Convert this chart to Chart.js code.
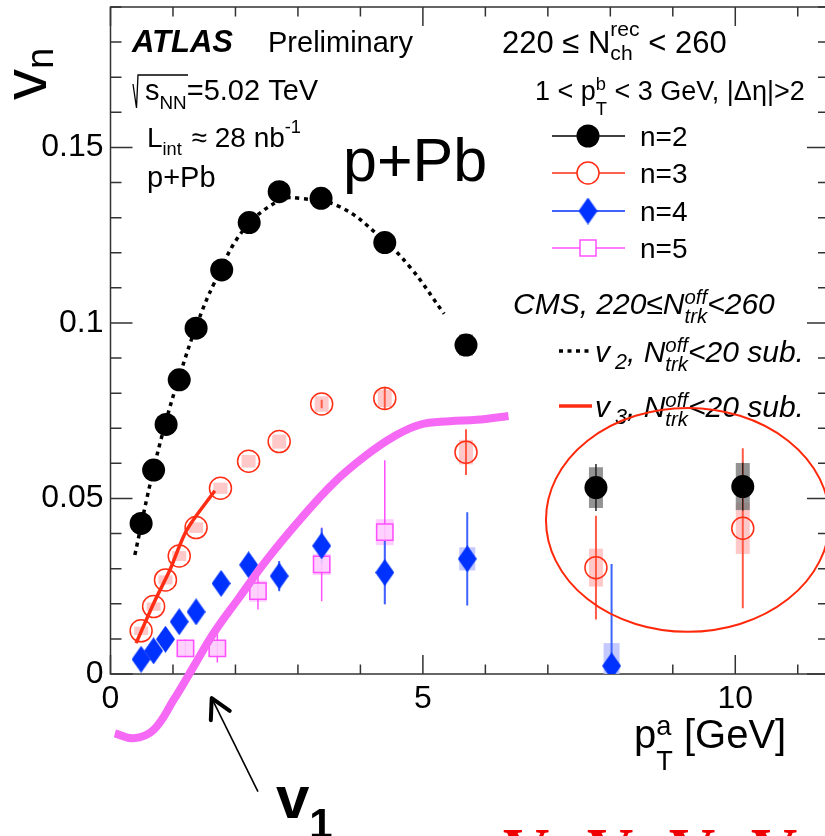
<!DOCTYPE html>
<html>
<head>
<meta charset="utf-8">
<script src="https://cdn.jsdelivr.net/npm/chart.js@4.4.0/dist/chart.umd.min.js"></script>
<style>
html, body { margin: 0; padding: 0; background: #fff; overflow: hidden; }
canvas { display: block; }
</style>
</head>
<body>
<canvas id="c" width="840" height="836"></canvas>
<script>
const FONT = 'Liberation Sans';

// ATLAS p+Pb, 220 <= Nch < 260 : vn vs pT(a)
const ptN2 = [0.49, 0.69, 0.89, 1.10, 1.37, 1.78, 2.22, 2.70, 3.37, 4.39, 5.69, 7.77, 10.12];
const v2 = [0.0429, 0.0581, 0.0711, 0.0838, 0.0985, 0.1151, 0.1286, 0.1374, 0.1355, 0.1229, 0.0937, 0.0531, 0.0534];
const v2Stat = [0, 0, 0, 0, 0, 0, 0, 0, 0, 0, 0.003, 0.0067, 0.0068];
const v2Sys = [0, 0, 0, 0, 0, 0, 0, 0, 0, 0, 0.003, 0.0058, 0.0067];

const ptN3 = [0.49, 0.69, 0.88, 1.10, 1.37, 1.76, 2.21, 2.70, 3.38, 4.39, 5.69, 7.77, 10.12];
const v3 = [0.0123, 0.0192, 0.0268, 0.0336, 0.0417, 0.0529, 0.0606, 0.0662, 0.0769, 0.0785, 0.0632, 0.0303, 0.0415];
const v3Stat = [0, 0, 0, 0, 0, 0, 0, 0, 0.0012, 0.0033, 0.0065, 0.0148, 0.0228];
const v3Sys = [0.0012, 0.0012, 0.0013, 0.0014, 0.0015, 0.0016, 0.0018, 0.002, 0.0022, 0.0025, 0.0035, 0.0054, 0.0073];

const ptN4 = [0.49, 0.69, 0.88, 1.10, 1.37, 1.77, 2.21, 2.70, 3.38, 4.39, 5.71, 8.02];
const v4 = [0.0042, 0.0066, 0.0099, 0.0149, 0.0177, 0.0258, 0.0311, 0.0279, 0.0365, 0.0289, 0.0328, 0.0023];
const v4Stat = [0, 0, 0, 0, 0, 0, 0, 0.0043, 0.005, 0.009, 0.0133, 0.029];
const v4Sys = [0, 0, 0, 0, 0, 0, 0, 0, 0, 0, 0.0033, 0.0065];

const ptN5 = [1.20, 1.71, 2.36, 3.38, 4.39];
const v5 = [0.0073, 0.0073, 0.0236, 0.0312, 0.0404];
const v5Stat = [0.0025, 0.004, 0.0052, 0.0105, 0.0205];
const v5Sys = [0.0022, 0.0022, 0.003, 0.003, 0.0037];

// CMS, 220 <= Ntrk < 260
const cmsPt2 = [0.39, 0.63, 0.87, 1.11, 1.38, 1.67, 2.13, 2.71, 3.03, 3.67, 4.31, 4.79, 5.34];
const cmsV2 = [0.0339, 0.0538, 0.0709, 0.0852, 0.0994, 0.1117, 0.1265, 0.135, 0.1355, 0.1331, 0.1246, 0.116, 0.1026];
const cmsPt3 = [0.41, 0.69, 0.95, 1.22, 1.67];
const cmsV3 = [0.0088, 0.0201, 0.0296, 0.0410, 0.0522];

// hand drawn v1 curve
const v1Pt = [0.07, 0.37, 0.69, 1.01, 1.33, 1.65, 2.07, 2.50, 3.03, 3.57, 4.10, 4.53, 4.95, 5.43, 5.86, 6.37];
const v1Val = [-0.0169, -0.0183, -0.0159, -0.0074, 0.0021, 0.0116, 0.0220, 0.0325, 0.0439, 0.0544, 0.0624, 0.0676, 0.0710, 0.0720, 0.0724, 0.0735];

const xTicks = [0, 5, 10];
const xTickLabels = ['0', '5', '10'];
const yTicks = [0, 0.05, 0.1, 0.15];
const yTickLabels = ['0', '0.05', '0.1', '0.15'];

const RED = 'rgb(255,45,20)';
const BLUE = 'rgb(0,50,255)';
const MAG = 'rgb(255,80,255)';
const CURVE = 'rgb(245,105,245)';

function pts(xs, ys) {
    return xs.map((x, i) => ({ x: x, y: ys[i] }));
}

function diamond(w, h, color) {
    const c = document.createElement('canvas');
    c.width = w;
    c.height = h;
    const g = c.getContext('2d');
    g.fillStyle = color;
    g.beginPath();
    g.moveTo(w / 2, 0);
    g.lineTo(w, h / 2);
    g.lineTo(w / 2, h);
    g.lineTo(0, h / 2);
    g.closePath();
    g.fill();
    return c;
}
const diamondImg = diamond(19, 27, BLUE);

const errorSeries = [
    { x: ptN5, y: v5, stat: v5Stat, sys: v5Sys, line: MAG, box: 'rgba(255,200,255,0.9)', w: 18, lw: 1.5 },
    { x: ptN4, y: v4, stat: v4Stat, sys: v4Sys, line: 'rgb(60,100,255)', box: 'rgba(190,195,255,0.9)', w: 16, lw: 2 },
    { x: ptN3, y: v3, stat: v3Stat, sys: v3Sys, line: 'rgb(255,90,70)', box: 'rgba(255,195,195,0.9)', w: 14, lw: 2 },
    { x: ptN2, y: v2, stat: v2Stat, sys: v2Sys, line: '#222', box: 'rgba(120,120,120,0.8)', w: 14, lw: 1.5 }
];

// text with sub/superscripts
function rich(ctx, x, y, size, parts, opt) {
    opt = opt || {};
    const st = opt.style || '';
    const fam = opt.family || FONT;
    ctx.fillStyle = opt.color || '#000';
    ctx.textAlign = 'left';
    ctx.textBaseline = 'alphabetic';
    parts.forEach(p => {
        if (typeof p === 'string') {
            ctx.font = st + ' ' + size + 'px "' + fam + '"';
            ctx.fillText(p, x, y);
            x += ctx.measureText(p).width;
        } else {
            const s2 = size * (p.scale || 0.68);
            ctx.font = st + ' ' + s2 + 'px "' + fam + '"';
            let w = 0;
            const x0 = x + (p.pre || 0);
            if (p.sup) {
                ctx.fillText(p.sup, x0, y + size * (p.supDy !== undefined ? p.supDy : -0.45));
                w = Math.max(w, ctx.measureText(p.sup).width);
            }
            if (p.sub) {
                ctx.fillText(p.sub, x0, y + size * (p.subDy !== undefined ? p.subDy : 0.3));
                w = Math.max(w, ctx.measureText(p.sub).width);
            }
            x = x0 + w + (p.post || 0);
        }
    });
    return x;
}

const framePlugin = {
    id: 'frame',
    beforeDatasetsDraw(chart) {
        const ctx = chart.ctx;
        const a = chart.chartArea;
        const sx = chart.scales.x, sy = chart.scales.y;
        ctx.save();
        ctx.strokeStyle = '#333';
        ctx.lineWidth = 1.5;
        ctx.strokeRect(a.left, a.top, a.right - a.left, a.bottom - a.top);
        ctx.beginPath();
        for (let v = 0; v <= 11; v++) {
            const px = sx.getPixelForValue(v);
            const len = v % 5 === 0 ? 19 : 9.5;
            ctx.moveTo(px, a.bottom); ctx.lineTo(px, a.bottom - len);
            ctx.moveTo(px, a.top); ctx.lineTo(px, a.top + len);
        }
        for (let k = 0; k <= 19; k++) {
            const py = sy.getPixelForValue(k / 100);
            const len = k % 5 === 0 ? 22 : 11;
            ctx.moveTo(a.left, py); ctx.lineTo(a.left + len, py);
            ctx.moveTo(a.right, py); ctx.lineTo(a.right - len, py);
        }
        ctx.stroke();

        // systematic boxes and statistical bars
        ctx.beginPath();
        ctx.rect(a.left, a.top, a.right - a.left, a.bottom - a.top);
        ctx.clip();
        errorSeries.forEach(s => {
            ctx.fillStyle = s.box;
            s.x.forEach((xv, i) => {
                if (!s.sys[i]) return;
                const px = sx.getPixelForValue(xv);
                const t = sy.getPixelForValue(s.y[i] + s.sys[i]);
                const b = sy.getPixelForValue(s.y[i] - s.sys[i]);
                ctx.fillRect(px - s.w / 2, t, s.w, b - t);
            });
        });
        errorSeries.forEach(s => {
            ctx.strokeStyle = s.line;
            ctx.lineWidth = s.lw;
            ctx.beginPath();
            s.x.forEach((xv, i) => {
                if (!s.stat[i]) return;
                const px = sx.getPixelForValue(xv);
                ctx.moveTo(px, sy.getPixelForValue(s.y[i] + s.stat[i]));
                ctx.lineTo(px, sy.getPixelForValue(s.y[i] - s.stat[i]));
            });
            ctx.stroke();
        });
        ctx.restore();
    }
};

const annotatePlugin = {
    id: 'annotate',
    afterDraw(chart) {
        const ctx = chart.ctx;
        const sx = chart.scales.x, sy = chart.scales.y;
        ctx.save();

        // axis titles
        ctx.save();
        ctx.translate(46, 100);
        ctx.rotate(-Math.PI / 2);
        rich(ctx, 0, 0, 62, ['v', { sub: 'n', subDy: 0.12, scale: 0.62 }]);
        ctx.restore();
        rich(ctx, 634, 748, 40, ['p', { sup: 'a', sub: 'T', supDy: -0.33, subDy: 0.56, scale: 0.68 }, ' [GeV]']);

        // ATLAS labels
        ctx.fillStyle = '#000';
        ctx.font = 'italic bold 31px "' + FONT + '"';
        ctx.fillText('ATLAS', 132, 52);
        ctx.font = '29px "' + FONT + '"';
        ctx.fillText('Preliminary', 268, 52);

        ctx.strokeStyle = '#000';
        ctx.lineWidth = 1.3;
        ctx.beginPath();
        ctx.moveTo(133, 84);
        ctx.lineTo(136.5, 108);
        ctx.lineTo(138, 75);
        ctx.lineTo(188, 75);
        ctx.stroke();
        rich(ctx, 145, 100, 29, ['s', { sub: 'NN', subDy: 0.3, scale: 0.65 }, '=5.02 TeV']);
        rich(ctx, 147, 147, 28, ['L', { sub: 'int', subDy: 0.3, scale: 0.65, post: 2 }, ' \u2248 28 nb', { sup: '-1', supDy: -0.5, scale: 0.65 }]);
        rich(ctx, 147, 187, 29, ['p+Pb']);
        rich(ctx, 343, 181, 61, ['p+Pb']);

        rich(ctx, 502, 53, 31, ['220 \u2264 N', { sup: 'rec', sub: 'ch', supDy: -0.55, subDy: 0.23 }, ' < 260']);
        rich(ctx, 535, 100, 27, ['1 < p', { sup: 'b', sub: 'T', supDy: -0.37, subDy: 0.55 }, ' < 3 GeV, |\u0394\u03b7|>2']);

        // ATLAS legend
        const rows = [136, 173, 211, 248];
        const lbl = ['n=2', 'n=3', 'n=4', 'n=5'];
        const cols = ['#000', RED, BLUE, MAG];
        rows.forEach((ry, i) => {
            ctx.strokeStyle = cols[i];
            ctx.lineWidth = 1.5;
            ctx.beginPath();
            ctx.moveTo(552, ry);
            ctx.lineTo(625, ry);
            ctx.stroke();
            if (i === 0) {
                ctx.fillStyle = '#000';
                ctx.beginPath(); ctx.arc(588, ry, 11.5, 0, Math.PI * 2); ctx.fill();
            } else if (i === 1) {
                ctx.fillStyle = '#fff';
                ctx.beginPath(); ctx.arc(588, ry, 11, 0, Math.PI * 2); ctx.fill(); ctx.stroke();
            } else if (i === 2) {
                ctx.drawImage(diamondImg, 588 - 9.5, ry - 13.5);
            } else {
                ctx.fillStyle = '#fff';
                ctx.fillRect(580, ry - 8, 16, 16);
                ctx.strokeRect(580, ry - 8, 16, 16);
            }
            rich(ctx, 640, ry + 10, 28, [lbl[i]]);
        });

        // CMS legend
        const it = { style: 'italic' };
        rich(ctx, 513, 314, 30, ['CMS, 220\u2264N', { sup: 'off', sub: 'trk', supDy: -0.33, subDy: 0.3 }, '<260'], it);
        ctx.strokeStyle = '#000';
        ctx.lineWidth = 3.5;
        ctx.setLineDash([4, 4.5]);
        ctx.beginPath(); ctx.moveTo(559, 351); ctx.lineTo(592, 351); ctx.stroke();
        ctx.setLineDash([]);
        rich(ctx, 595, 362, 30, ['v', { sub: '2', subDy: 0.22, scale: 0.72, pre: 5 }, ', N', { sup: 'off', sub: 'trk', supDy: -0.33, subDy: 0.3 }, '<20 sub.'], it);
        ctx.strokeStyle = RED;
        ctx.beginPath(); ctx.moveTo(559, 406); ctx.lineTo(592, 406); ctx.stroke();
        rich(ctx, 595, 417, 30, ['v', { sub: '3', subDy: 0.22, scale: 0.72, pre: 5 }, ', N', { sup: 'off', sub: 'trk', supDy: -0.33, subDy: 0.3 }, '<20 sub.'], it);

        // red ellipse around high-pT points
        const cx = sx.getPixelForValue(9.24), cy = sy.getPixelForValue(0.0439);
        const rx = sx.getPixelForValue(9.24 + 2.27) - cx;
        const ryy = cy - sy.getPixelForValue(0.0439 + 0.0319);
        ctx.strokeStyle = 'rgb(255,40,10)';
        ctx.lineWidth = 2;
        ctx.beginPath();
        ctx.ellipse(cx, cy, rx, ryy, 0, 0, Math.PI * 2);
        ctx.stroke();

        // arrow to v1 curve
        const tipX = sx.getPixelForValue(1.62), tipY = sy.getPixelForValue(-0.0069);
        const tailX = sx.getPixelForValue(2.36), tailY = sy.getPixelForValue(-0.0335);
        ctx.strokeStyle = '#000';
        ctx.lineWidth = 1.6;
        ctx.beginPath(); ctx.moveTo(tailX, tailY); ctx.lineTo(tipX, tipY); ctx.stroke();
        const ang = Math.atan2(tipY - tailY, tipX - tailX);
        ctx.lineWidth = 4;
        ctx.lineCap = 'round';
        ctx.beginPath();
        [0.5, -0.5].forEach(d => {
            ctx.moveTo(tipX, tipY);
            ctx.lineTo(tipX - 22 * Math.cos(ang + d), tipY - 22 * Math.sin(ang + d));
        });
        ctx.stroke();
        rich(ctx, 276, 818, 60, ['v', { sub: '1', subDy: 0.33, scale: 0.7 }], { style: 'bold' });

        // cut-off red labels at the bottom
        ctx.fillStyle = 'rgb(240,0,0)';
        ctx.font = 'bold 64px "Liberation Serif"';
        [503, 587, 669, 751].forEach(x => ctx.fillText('V', x, 872));
        ctx.restore();
    }
};

new Chart(document.getElementById('c'), {
    type: 'scatter',
    data: {
        datasets: [
            {
                label: 'v1',
                data: pts(v1Pt, v1Val),
                showLine: true,
                borderColor: CURVE,
                borderWidth: 8,
                pointRadius: 0,
                tension: 0.4,
                clip: false,
                order: 0
            },
            {
                label: 'CMS v2',
                data: pts(cmsPt2, cmsV2),
                showLine: true,
                borderColor: '#000',
                borderWidth: 3.5,
                borderDash: [4, 4.5],
                pointRadius: 0,
                tension: 0.4,
                order: 6
            },
            {
                label: 'CMS v3',
                data: pts(cmsPt3, cmsV3),
                showLine: true,
                borderColor: RED,
                borderWidth: 3.5,
                pointRadius: 0,
                tension: 0.3,
                order: 5
            },
            {
                label: 'n=5',
                data: pts(ptN5, v5),
                pointStyle: 'rect',
                pointRadius: 11.5,
                backgroundColor: 'rgba(255,210,255,0.85)',
                borderColor: MAG,
                borderWidth: 1.5,
                order: 4
            },
            {
                label: 'n=4',
                data: pts(ptN4, v4),
                pointStyle: diamondImg,
                backgroundColor: BLUE,
                borderColor: BLUE,
                order: 3
            },
            {
                label: 'n=3',
                data: pts(ptN3, v3),
                pointStyle: 'circle',
                pointRadius: 11,
                backgroundColor: 'rgba(0,0,0,0)',
                borderColor: RED,
                borderWidth: 1.5,
                order: 2
            },
            {
                label: 'n=2',
                data: pts(ptN2, v2),
                pointStyle: 'circle',
                pointRadius: 11.5,
                backgroundColor: '#000',
                borderColor: '#000',
                borderWidth: 0,
                order: 1
            }
        ]
    },
    options: {
        responsive: false,
        animation: false,
        events: [],
        layout: { autoPadding: false, padding: { top: 7, right: 11, left: 0, bottom: 0 } },
        plugins: {
            legend: { display: false },
            tooltip: { enabled: false }
        },
        scales: {
            x: {
                type: 'linear',
                min: 0,
                max: 11.5,
                grid: { display: false, drawTicks: false },
                border: { display: false },
                afterBuildTicks: s => { s.ticks = xTicks.map(v => ({ value: v })); },
                afterFit: s => {
                    s.height = 162;
                    s.paddingLeft = 0;
                    s.paddingRight = 0;
                },
                ticks: {
                    font: { family: FONT, size: 32 },
                    color: '#000',
                    padding: 6,
                    maxRotation: 0,
                    autoSkip: false,
                    callback: (v, i) => xTickLabels[i]
                }
            },
            y: {
                type: 'linear',
                min: 0,
                max: 0.19,
                grid: { display: false, drawTicks: false },
                border: { display: false },
                afterBuildTicks: s => { s.ticks = yTicks.map(v => ({ value: v })); },
                afterFit: s => {
                    s.width = 110.5;
                    s.paddingTop = 0;
                    s.paddingBottom = 0;
                },
                ticks: {
                    font: { family: FONT, size: 32, lineHeight: 0.4 },
                    color: '#000',
                    padding: 7,
                    autoSkip: false,
                    callback: (v, i) => yTickLabels[i]
                }
            }
        }
    },
    plugins: [framePlugin, annotatePlugin]
});
</script>
</body>
</html>
